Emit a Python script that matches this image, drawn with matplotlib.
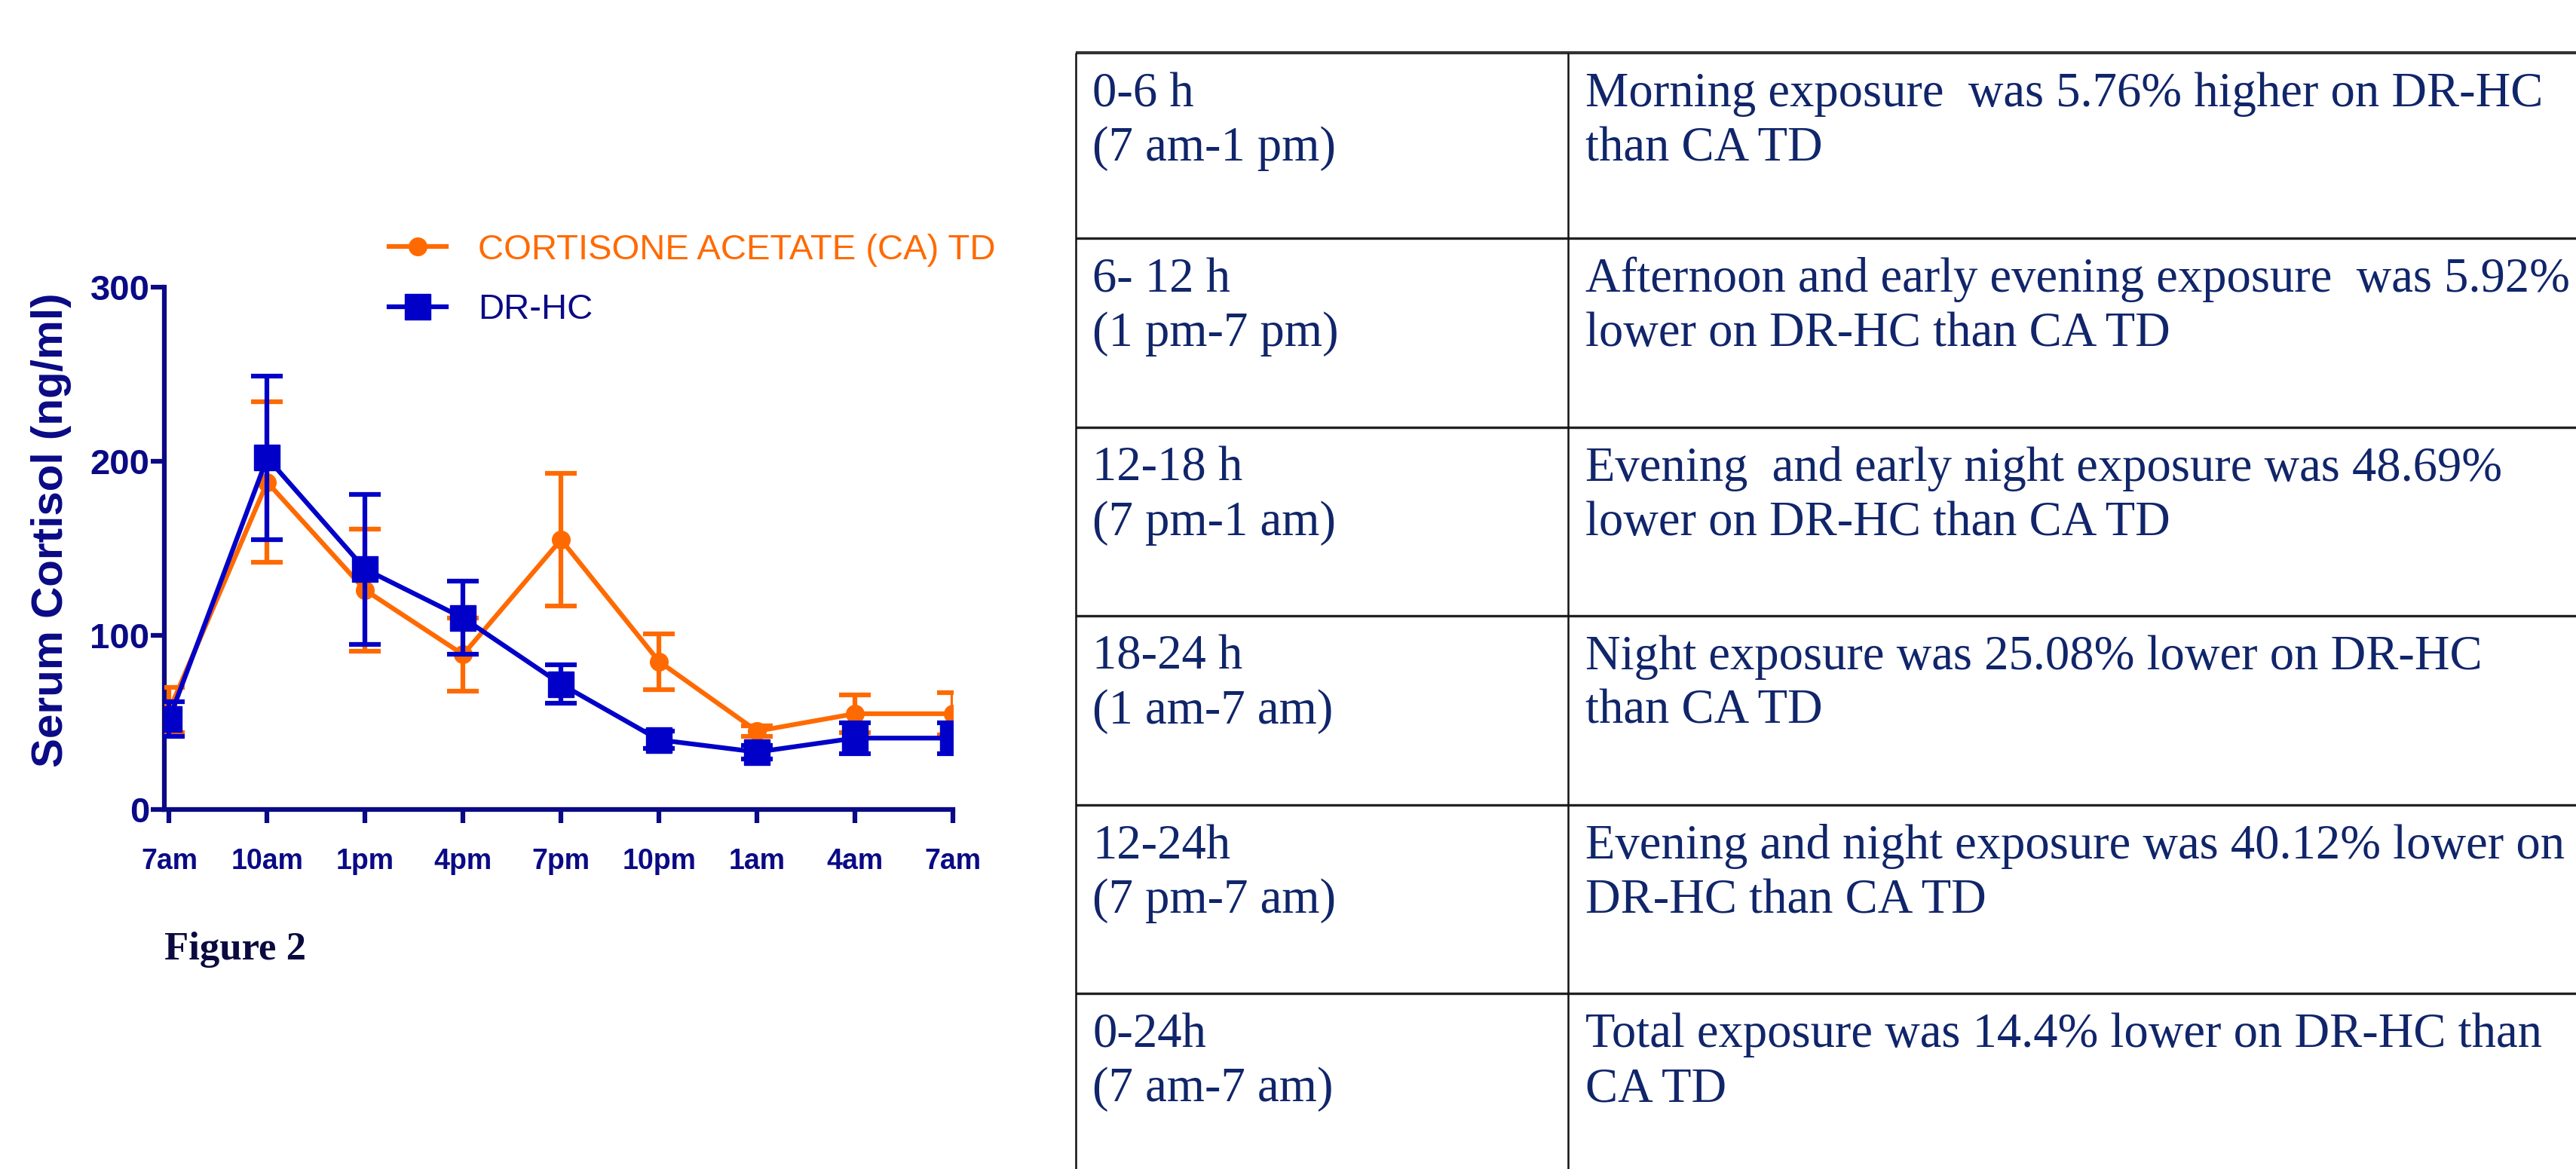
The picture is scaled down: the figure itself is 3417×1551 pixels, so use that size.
import numpy as np
import matplotlib
matplotlib.use('Agg')
import matplotlib.pyplot as plt

W, H = 3417, 1551

# serum cortisol sampled every 3 h, mean and error (ng/ml)
time_labels = ['7am', '10am', '1pm', '4pm', '7pm', '10pm', '1am', '4am', '7am']
ca_td_mean = [57, 188, 126, 89, 155, 85, 45, 55, 55]
ca_td_err = [13, 46, 35, 21, 38, 16, 3, 11, 12]
dr_hc_mean = [52, 202, 138, 110, 72, 40, 33, 41, 41]
dr_hc_err = [10, 47, 43, 21, 11, 5, 4, 9, 9]

# exposure comparison by period
period_labels = [
    ('0-6 h', '(7 am-1 pm)'),
    ('6- 12 h', '(1 pm-7 pm)'),
    ('12-18 h', '(7 pm-1 am)'),
    ('18-24 h', '(1 am-7 am)'),
    ('12-24h', '(7 pm-7 am)'),
    ('0-24h', '(7 am-7 am)'),
]
period_notes = [
    ('Morning exposure  was 5.76% higher on DR-HC', 'than CA TD'),
    ('Afternoon and early evening exposure  was 5.92%', 'lower on DR-HC than CA TD'),
    ('Evening  and early night exposure was 48.69%', 'lower on DR-HC than CA TD'),
    ('Night exposure was 25.08% lower on DR-HC', 'than CA TD'),
    ('Evening and night exposure was 40.12% lower on', 'DR-HC than CA TD'),
    ('Total exposure was 14.4% lower on DR-HC than', 'CA TD'),
]

NAVY = '#0a0a86'
ORANGE = '#ff6a00'
BLUE = '#0000c8'
TEXT_NAVY = '#10256a'
sans = ['Liberation Sans', 'DejaVu Sans']
serif = ['Liberation Serif', 'DejaVu Serif']

fig = plt.figure(figsize=(W / 100, H / 100), dpi=100)

# --- line chart ---
ax = fig.add_axes([218 / W, 1 - 1074 / H, (1264 - 218) / W, (1074 - 381) / H])
x = np.arange(len(time_labels))

ca = ax.errorbar(x, ca_td_mean, yerr=ca_td_err, color=ORANGE, marker='o',
                 markersize=17, linewidth=4.5, elinewidth=4.5, capsize=15,
                 capthick=4.5, zorder=3)
hc = ax.errorbar(x, dr_hc_mean, yerr=dr_hc_err, color=BLUE, marker='s',
                 markersize=25, linewidth=4.5, elinewidth=4.5, capsize=15,
                 capthick=4.5, zorder=4)

ax.set_xlim(-0.05, 8)
ax.set_ylim(0, 300)
ax.set_yticks([0, 100, 200, 300])
ax.set_xticks(x)
ax.set_xticklabels(time_labels)
for side in ['top', 'right']:
    ax.spines[side].set_visible(False)
for side in ['left', 'bottom']:
    ax.spines[side].set_color(NAVY)
    ax.spines[side].set_linewidth(4.5)
ax.tick_params(axis='both', colors=NAVY, width=4.5, length=13, direction='out')
ax.tick_params(axis='y', pad=1)
ax.tick_params(axis='x', pad=24)
for lab in ax.get_yticklabels():
    lab.set_fontfamily(sans)
    lab.set_fontweight('bold')
    lab.set_fontsize(34)
for lab in ax.get_xticklabels():
    lab.set_fontfamily(sans)
    lab.set_fontweight('bold')
    lab.set_fontsize(27)

ax.set_ylabel('Serum Cortisol (ng/ml)', color=NAVY, fontsize=42,
              fontweight='bold', family=sans)
ax.yaxis.set_label_coords(-0.118, 0.535)

leg = ax.legend([ca[0], hc[0]], ['CORTISONE ACETATE (CA) TD', 'DR-HC'],
                loc='upper left', bbox_to_anchor=(516 / W, 1 - 310 / H),
                bbox_transform=fig.transFigure, frameon=False,
                prop={'family': sans, 'size': 34}, handlelength=1.6,
                handletextpad=0.9, labelspacing=0.75, borderpad=0,
                borderaxespad=0)
leg.get_texts()[0].set_color(ORANGE)
leg.get_texts()[1].set_color(NAVY)

fig.text(218 / W, 1 - 1260 / H, 'Figure 2', fontsize=38, fontweight='bold',
         family=serif, color='#0a0a40', ha='left', va='center')

# --- summary table, laid out in pixel units ---
tab = fig.add_axes([0, 0, 1, 1])
tab.set_xlim(0, W)
tab.set_ylim(H, 0)
tab.axis('off')

row_tops = [70, 316, 567, 817, 1068, 1318]
col_left, col_mid = 1427, 2080
tab.hlines(row_tops[0], col_left, W + 10, color='#333333', linewidth=3)
tab.hlines(row_tops[1:], col_left, W + 10, color='#222222', linewidth=2.4)
tab.vlines([col_left, col_mid], row_tops[0], H + 10, color='#111111', linewidth=1.8)

for top, (l1, l2), (n1, n2) in zip(row_tops, period_labels, period_notes):
    for dy, a, b in [(71, l1, n1), (143, l2, n2)]:
        tab.text(1449, top + dy, a, fontsize=46.5, family=serif,
                 color=TEXT_NAVY, va='baseline', ha='left')
        tab.text(2103, top + dy, b, fontsize=46.5, family=serif,
                 color=TEXT_NAVY, va='baseline', ha='left')

fig.savefig('out.png', dpi=100, facecolor='white')
